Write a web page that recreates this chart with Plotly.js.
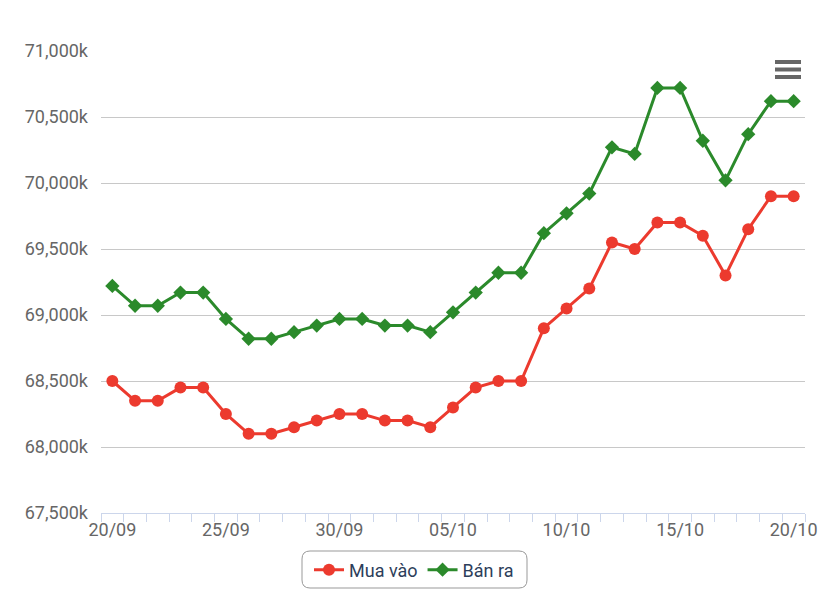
<!DOCTYPE html>
<html>
<head>
<meta charset="utf-8">
<script src="https://cdn.plot.ly/plotly-3.0.1.min.js"></script>
<style>html,body{margin:0;padding:0;background:#fff}#chart{width:838px;height:596px}</style>
</head>
<body>
<div id="chart"></div>
<script>
const dates = ["20/09","21/09","22/09","23/09","24/09","25/09","26/09","27/09","28/09","29/09","30/09",
  "01/10","02/10","03/10","04/10","05/10","06/10","07/10","08/10","09/10","10/10",
  "11/10","12/10","13/10","14/10","15/10","16/10","17/10","18/10","19/10","20/10"];
const muaVao = [68500,68350,68350,68450,68450,68250,68100,68100,68150,68200,68250,
  68250,68200,68200,68150,68300,68450,68500,68500,68900,69050,
  69200,69550,69500,69700,69700,69600,69300,69650,69900,69900];
const banRa = [69220,69070,69070,69170,69170,68970,68820,68820,68870,68920,68970,
  68970,68920,68920,68870,69020,69170,69320,69320,69620,69770,
  69920,70270,70220,70720,70720,70320,70020,70370,70620,70620];
const labelStep = 5;

const idx = dates.map((d, i) => i);
const tickIdx = idx.filter(i => i % labelStep === 0);
const tickTxt = tickIdx.map(i => dates[i]);

const L = 101, R = 805, T = 51, B = 513;
const W = 838, H = 596;
const px = v => (v - L) / (R - L);
const py = v => (B - v) / (B - T);

function roundRect(x0, y0, x1, y1, r) {
  const rx = r / (R - L), ry = r / (B - T);
  const a = px(x0), b = px(x1), top = py(y0), bot = py(y1);
  return `M ${a+rx},${top} L ${b-rx},${top} Q ${b},${top} ${b},${top-ry} L ${b},${bot+ry} Q ${b},${bot} ${b-rx},${bot} L ${a+rx},${bot} Q ${a},${bot} ${a},${bot+ry} L ${a},${top-ry} Q ${a},${top} ${a+rx},${top} Z`;
}

const traces = [
  {x: idx, y: muaVao, name: "Mua vào", type: "scatter", mode: "lines+markers",
   line: {color: "#ec3a2e", width: 3}, marker: {symbol: "circle", size: 12, color: "#ec3a2e"},
   text: dates, hovertemplate: "%{text}: %{y:,}k<extra></extra>"},
  {x: idx, y: banRa, name: "Bán ra", type: "scatter", mode: "lines+markers",
   line: {color: "#2b8a2b", width: 3}, marker: {symbol: "diamond", size: 11, color: "#2b8a2b"},
   text: dates, hovertemplate: "%{text}: %{y:,}k<extra></extra>"}
];

const shapes = [
  {type: "path", xref: "paper", yref: "paper", path: roundRect(302, 551, 527, 588, 8),
   line: {color: "#999", width: 1}, fillcolor: "rgba(0,0,0,0)", layer: "below"}
];
[62, 69.5, 77].forEach(c => {
  shapes.push({type: "rect", xref: "paper", yref: "paper",
    x0: px(775), x1: px(801), y0: py(c - 2), y1: py(c + 2),
    line: {width: 0}, fillcolor: "#666"});
});

const layout = {
  width: W, height: H,
  margin: {l: L, r: W - R, t: T, b: H - B, autoexpand: false},
  paper_bgcolor: "#fff", plot_bgcolor: "#fff",
  font: {family: "Roboto, sans-serif", size: 18, color: "#666"},
  showlegend: true,
  legend: {orientation: "h", x: px(414), xanchor: "center", y: py(570), yanchor: "middle",
    font: {size: 18, color: "#2d3e5a"}, bgcolor: "rgba(0,0,0,0)", itemwidth: 30},
  xaxis: {type: "linear", range: [-0.5, dates.length - 0.5], tickvals: tickIdx, ticktext: tickTxt,
    ticks: "", showgrid: false, zeroline: false, showline: true, linecolor: "#ccd6eb", linewidth: 1,
    tickfont: {size: 18, color: "#666"},
    minor: {ticks: "outside", tick0: -0.5, dtick: 1, ticklen: 8, tickcolor: "#ccd6eb", tickwidth: 1, showgrid: false}},
  yaxis: {range: [67500, 71000], dtick: 500, tick0: 67500, tickformat: ",", ticksuffix: "k",
    showgrid: true, gridcolor: "#c8c8c8", gridwidth: 1, zeroline: false, showline: false,
    ticks: "", ticklabelstandoff: 12, tickfont: {size: 18, color: "#666"}},
  shapes: shapes,
  hovermode: "closest"
};

Plotly.newPlot("chart", traces, layout, {displayModeBar: false, responsive: false});
</script>
</body>
</html>
